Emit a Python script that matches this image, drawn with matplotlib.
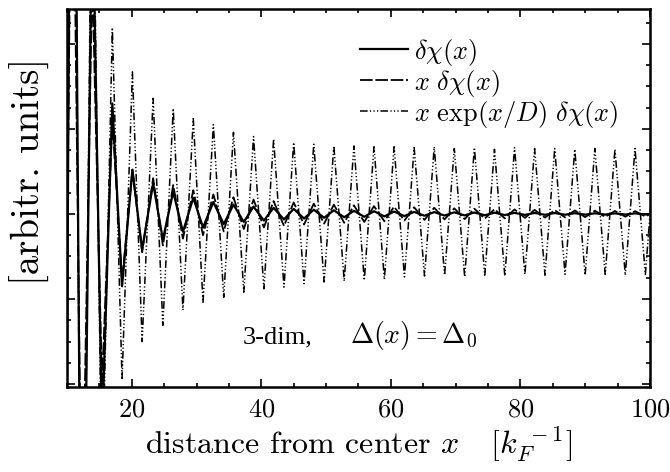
import matplotlib
matplotlib.use("Agg")
import matplotlib.pyplot as plt
from matplotlib.lines import Line2D
from matplotlib.ticker import MultipleLocator, NullFormatter

plt.rcParams["font.family"] = ["cmr10", "DejaVu Serif"]
plt.rcParams["mathtext.fontset"] = "cm"
plt.rcParams["axes.formatter.use_mathtext"] = True

# positions of the extrema (trough, peak, trough, ...)
ext_x = [9.2, 10.8, 12.3, 13.9, 15.4, 17.0, 18.5, 20.1, 21.6, 23.3,
         24.8, 26.4, 27.9, 29.5, 31.0, 32.6, 34.2, 35.7, 37.3, 38.8,
         40.4, 41.9, 43.5, 45.0, 46.6, 48.1, 49.7, 51.2, 52.8, 54.3,
         55.9, 57.4, 59.0, 60.5, 62.1, 63.6, 65.2, 66.7, 68.3, 69.8,
         71.4, 72.9, 74.5, 76.0, 77.6, 79.1, 80.7, 82.2, 83.8, 85.3,
         86.9, 88.4, 90.0, 91.5, 93.1, 94.6, 96.2, 97.7, 99.3, 100.8]

# delta chi(x), solid
chi = [-14.0, 10.0, -6.5, 4.0, -2.6, 1.3, -0.85, 0.52, -0.42, 0.36,
       -0.30, 0.26, -0.21, 0.19, -0.16, 0.14, -0.12, 0.11, -0.095, 0.087,
       -0.078, 0.072, -0.065, 0.060, -0.054, 0.050, -0.045, 0.043, -0.039, 0.037,
       -0.034, 0.032, -0.029, 0.028, -0.025, 0.024, -0.021, 0.022, -0.019, 0.019,
       -0.017, 0.017, -0.015, 0.015, -0.013, 0.013, -0.011, 0.012, -0.010, 0.011,
       -0.009, 0.009, -0.008, 0.008, -0.007, 0.007, -0.007, 0.007, -0.006, 0.006]

# x * delta chi(x), dashed
x_chi = [-6.4, 5.4, -4.0, 2.8, -2.0, 1.1, -0.79, 0.52, -0.45, 0.42,
         -0.37, 0.34, -0.29, 0.28, -0.25, 0.23, -0.205, 0.196, -0.177, 0.169,
         -0.158, 0.151, -0.141, 0.135, -0.125, 0.121, -0.113, 0.109, -0.103, 0.101,
         -0.094, 0.092, -0.086, 0.085, -0.077, 0.078, -0.070, 0.073, -0.064, 0.066,
         -0.061, 0.062, -0.055, 0.056, -0.052, 0.053, -0.046, 0.048, -0.043, 0.045,
         -0.040, 0.041, -0.037, 0.038, -0.034, 0.035, -0.032, 0.033, -0.029, 0.030]

# x * exp(x/D) * delta chi(x), dash-dotted
x_exp_chi = [-12.0, 10.0, -7.0, 5.0, -3.4, 2.19, -1.95, 1.67, -1.50, 1.36,
             -1.31, 1.24, -1.13, 1.12, -1.04, 1.05, -0.98, 0.96, -0.92, 0.91,
             -0.88, 0.88, -0.86, 0.84, -0.82, 0.82, -0.80, 0.80, -0.79, 0.80,
             -0.78, 0.79, -0.77, 0.79, -0.74, 0.78, -0.73, 0.79, -0.72, 0.77,
             -0.74, 0.78, -0.72, 0.76, -0.73, 0.78, -0.71, 0.77, -0.72, 0.77,
             -0.71, 0.76, -0.72, 0.77, -0.71, 0.76, -0.72, 0.77, -0.71, 0.76]

labels = [r"$\delta\chi(x)$", r"$x\ \delta\chi(x)$", r"$x\ \exp(x/D)\ \delta\chi(x)$"]
dash_long = (7, 1.5)
dash_dots = (5, 1.5, 0.8, 1.5, 0.8, 1.5, 0.8, 1.5)

fig = plt.figure(figsize=(6.7, 4.72), dpi=100)
ax = fig.add_axes([0.1, 0.18, 0.87, 0.801])

ax.plot(ext_x, x_exp_chi, color="black", lw=1.1, dashes=dash_dots)
ax.plot(ext_x, x_chi, color="black", lw=1.3, dashes=dash_long)
ax.plot(ext_x, chi, color="black", lw=1.6)

ax.set_xlim(10, 100)
ax.set_ylim(-2.035, 2.41)
ax.xaxis.set_major_locator(MultipleLocator(20))
ax.xaxis.set_minor_locator(MultipleLocator(5))
ax.yaxis.set_major_locator(MultipleLocator(1))
ax.yaxis.set_minor_locator(MultipleLocator(0.25))
ax.yaxis.set_major_formatter(NullFormatter())
ax.tick_params(which="both", direction="in", top=True, right=True, width=1.2)
ax.tick_params(which="major", length=6, labelsize=19, pad=8)
ax.tick_params(which="minor", length=3)
for sp in ax.spines.values():
    sp.set_linewidth(1.8)

ax.set_xlabel(r"distance from center $x$   $[k_F^{\ -1}]$", fontsize=23, labelpad=2)
fig.text(0.045, 1 - 171 / 472, "[arbitr. units]", rotation=90, fontsize=28,
         ha="center", va="center")

ax.text(0.302, 0.116, "3-dim,", transform=ax.transAxes, fontsize=19,
        family="Liberation Serif", va="baseline")
ax.text(0.485, 0.116, r"$\Delta(x) = \Delta_0$", transform=ax.transAxes,
        fontsize=20, va="baseline")

handles = [Line2D([], [], color="black", lw=1.6),
           Line2D([], [], color="black", lw=1.3, dashes=dash_long),
           Line2D([], [], color="black", lw=1.1, dashes=dash_dots)]
ax.legend(handles, labels, loc="upper right", bbox_to_anchor=(0.965, 0.955),
          frameon=False, fontsize=19, handlelength=1.8, handletextpad=0.25,
          labelspacing=0.0, borderaxespad=0)

fig.savefig("out.png", dpi=100)
